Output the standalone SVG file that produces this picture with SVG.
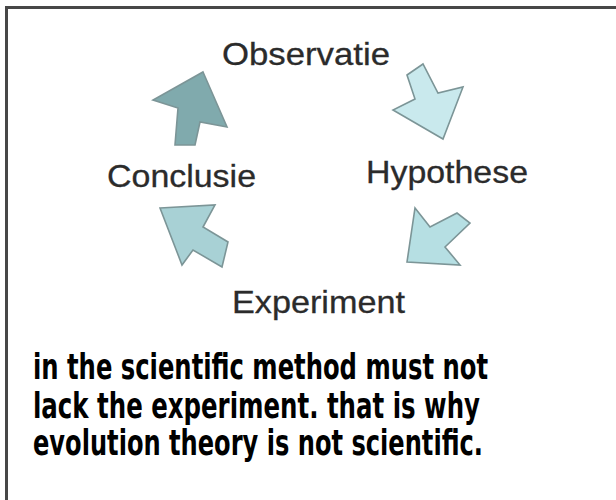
<svg xmlns="http://www.w3.org/2000/svg" width="616" height="500" viewBox="0 0 616 500">
<style>
.lbl{font-family:"Liberation Sans",Arial,sans-serif;font-size:32px;fill:#2b2b2b;stroke:#2b2b2b;stroke-width:0.3}
.arr{stroke:#7c9597;stroke-width:1.6;stroke-linejoin:miter}
.cap{font-family:"DejaVu Sans Condensed","DejaVu Sans",sans-serif;font-weight:bold;font-size:35px;fill:#000}
</style>
<rect x="0" y="0" width="616" height="500" fill="#fff"/>
<rect x="6.5" y="7.5" width="700" height="600" fill="none" stroke="#474747" stroke-width="3"/>
<g id="connectors">
<polygon class="arr" fill="#c9e9ed" points="407,75 423,64 438,93 463,87 443,139 393,110 415,99"/>
<polygon class="arr" fill="#b6dfe3" points="415,208 430,227 457,213 470,223 445,247 460,265 407,262"/>
<polygon class="arr" fill="#a8d1d5" points="160,208 215,205 203,227 228,242 222,267 193,250 182,265"/>
<polygon class="arr" fill="#80aaad" points="203,72 227,127 200,122 195,145 175,145 178,108 153,100"/>
</g>
<g id="observatie"><text class="lbl" x="222" y="65" textLength="168" lengthAdjust="spacingAndGlyphs">Observatie</text></g>
<g id="hypothese"><text class="lbl" x="366" y="183" textLength="162" lengthAdjust="spacingAndGlyphs">Hypothese</text></g>
<g id="experiment"><text class="lbl" x="232" y="313" textLength="173" lengthAdjust="spacingAndGlyphs">Experiment</text></g>
<g id="conclusie"><text class="lbl" x="107" y="187" textLength="149" lengthAdjust="spacingAndGlyphs">Conclusie</text></g>
<g id="caption">
<text class="cap" x="33" y="379" textLength="455" lengthAdjust="spacingAndGlyphs">in the scientific method must not</text>
<text class="cap" x="33" y="418" textLength="447" lengthAdjust="spacingAndGlyphs">lack the experiment. that is why</text>
<text class="cap" x="33" y="455" textLength="450" lengthAdjust="spacingAndGlyphs">evolution theory is not scientific.</text>
</g>
</svg>
